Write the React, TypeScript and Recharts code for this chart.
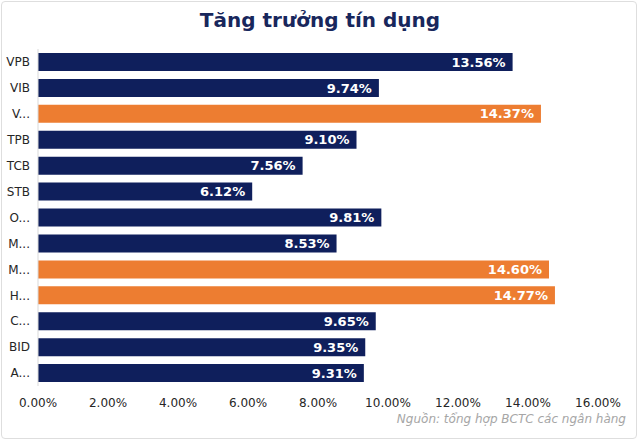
import { BarChart, Bar, XAxis, YAxis, Cell, LabelList } from "recharts"

// Credit growth by bank, as shown on the chart (truncated names kept as displayed)
const banks = ["VPB", "VIB", "V...", "TPB", "TCB", "STB", "O...", "M...", "M...", "H...", "C...", "BID", "A..."]
const growth = [13.56, 9.74, 14.37, 9.1, 7.56, 6.12, 9.81, 8.53, 14.6, 14.77, 9.65, 9.35, 9.31]
const highlighted = [false, false, true, false, false, false, false, false, true, true, false, false, false]
const xTicks = [0, 2, 4, 6, 8, 10, 12, 14, 16]

const colors = {
  navy: "#0f1f5c",
  orange: "#ed7d31",
  title: "#18275c",
  axis: "#d9d9d9",
  tick: "#262626",
  note: "#a6a6a6",
}

const font = '"DejaVu Sans", Verdana, sans-serif'

export default function App() {
  const data = banks.map((name, i) => ({ id: i, name, value: growth[i] }))

  return (
    <div style={{ position: "absolute", left: 0, top: 0, width: 640, height: 442, background: "#fff", fontFamily: font }}>
      <div
        style={{
          position: "absolute",
          left: 1,
          top: 1,
          width: 636,
          height: 438,
          boxSizing: "border-box",
          border: "1px solid #dedede",
          borderRadius: 4,
        }}
      />
      <div
        style={{
          position: "absolute",
          left: 0,
          top: 8,
          width: 640,
          textAlign: "center",
          fontSize: 20,
          fontWeight: 700,
          color: colors.title,
        }}
      >
        Tăng trưởng tín dụng
      </div>
      <div style={{ position: "absolute", left: 0, top: 0 }}>
        <BarChart
          width={640}
          height={442}
          data={data}
          layout="vertical"
          margin={{ top: 49, right: 42, bottom: 26, left: 0 }}
          barSize={18}
        >
          <XAxis
            type="number"
            domain={[0, 16]}
            ticks={xTicks}
            axisLine={false}
            tickLine={false}
            tickMargin={6}
            tickFormatter={(v: number) => `${v.toFixed(2)}%`}
            tick={{ fill: colors.tick, fontSize: 12, fontFamily: font }}
          />
          <YAxis
            type="category"
            dataKey="id"
            width={38}
            tickLine={false}
            axisLine={{ stroke: colors.axis }}
            tickFormatter={(_v: number, i: number) => banks[i]}
            tick={{ fill: colors.tick, fontSize: 12, fontFamily: font }}
          />
          <Bar dataKey="value" isAnimationActive={false}>
            {data.map((d, i) => (
              <Cell key={d.id} fill={highlighted[i] ? colors.orange : colors.navy} />
            ))}
            <LabelList
              dataKey="value"
              position="insideRight"
              offset={7}
              formatter={(v: number) => `${v.toFixed(2)}%`}
              style={{ fill: "#fff", fontSize: 13, fontWeight: 700, fontFamily: font }}
            />
          </Bar>
        </BarChart>
      </div>
      <div
        style={{
          position: "absolute",
          right: 14,
          top: 412,
          fontSize: 12,
          fontStyle: "italic",
          color: colors.note,
        }}
      >
        Nguồn: tổng hợp BCTC các ngân hàng
      </div>
    </div>
  )
}
